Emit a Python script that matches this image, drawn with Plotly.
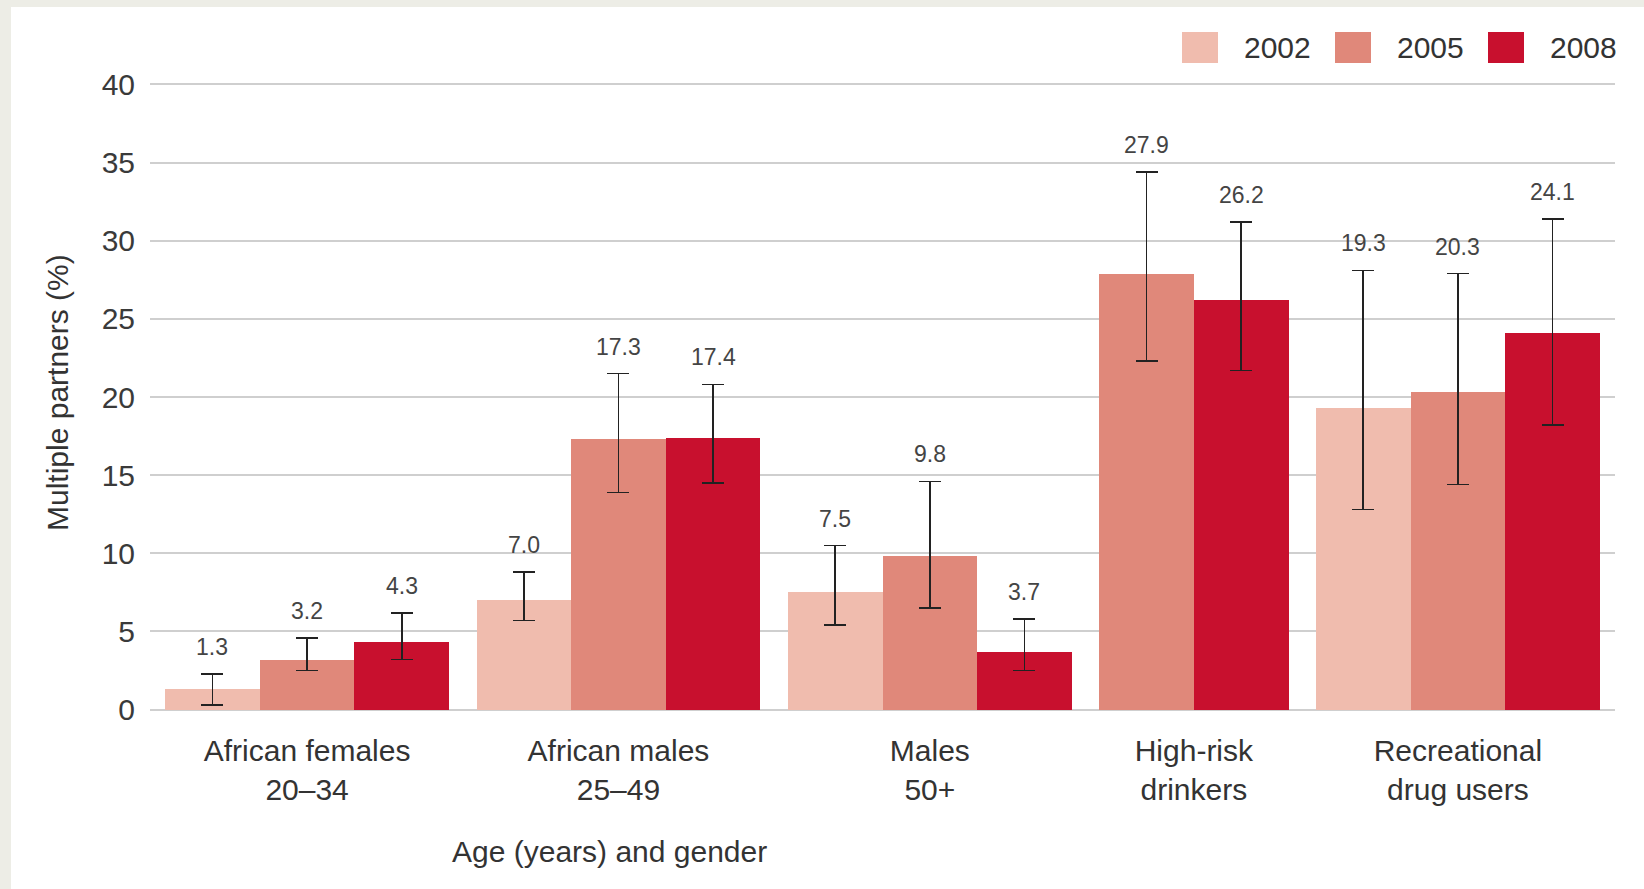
import plotly.graph_objects as go

# Share of respondents reporting multiple partners, by group and survey year
categories = [
    "African females<br>20–34",
    "African males<br>25–49",
    "Males<br>50+",
    "High-risk<br>drinkers",
    "Recreational<br>drug users",
]
years = ["2002", "2005", "2008"]

values_2002 = [1.3, 7.0, 7.5, None, 19.3]
values_2005 = [3.2, 17.3, 9.8, 27.9, 20.3]
values_2008 = [4.3, 17.4, 3.7, 26.2, 24.1]

# 95% confidence interval bounds
lower_2002 = [0.3, 5.7, 5.4, None, 12.8]
upper_2002 = [2.3, 8.8, 10.5, None, 28.1]
lower_2005 = [2.5, 13.9, 6.5, 22.3, 14.4]
upper_2005 = [4.6, 21.5, 14.6, 34.4, 27.9]
lower_2008 = [3.2, 14.5, 2.5, 21.7, 18.2]
upper_2008 = [6.2, 20.8, 5.8, 31.2, 31.4]

y_ticks = [0, 5, 10, 15, 20, 25, 30, 35, 40]

series = [
    ("2002", values_2002, lower_2002, upper_2002, "#F0BCAE"),
    ("2005", values_2005, lower_2005, upper_2005, "#E0887A"),
    ("2008", values_2008, lower_2008, upper_2008, "#C8102E"),
]

# ---- layout geometry (pixels) ----
W, H = 1644, 889
ML, MR, MT, MB = 150, 29, 82, 177
PW, PH = W - ML - MR, H - MT - MB

FONT = "Liberation Sans, Arial, sans-serif"

# Bars sit side by side inside a group; groups only reserve room for the
# years that have data, separated by a fixed gap (in bar-width units).
EDGE, GAP = 0.16, 0.29
bar_x = {name: [None] * len(categories) for name, *_ in series}
group_centers = []
cursor = EDGE
for ci in range(len(categories)):
    start = cursor
    for name, vals, *_ in series:
        if vals[ci] is not None:
            bar_x[name][ci] = cursor + 0.5
            cursor += 1.0
    group_centers.append((start + cursor) / 2)
    cursor += GAP
x_max = cursor - GAP + EDGE


def px_x(p):
    return (p - ML) / PW


def px_y(p):
    return (H - MB - p) / PH


fig = go.Figure()
annotations = []

for name, vals, lo, hi, color in series:
    xs, ys, plus, minus = [], [], [], []
    for ci, v in enumerate(vals):
        if v is None:
            continue
        xs.append(bar_x[name][ci])
        ys.append(v)
        plus.append(hi[ci] - v)
        minus.append(v - lo[ci])
        annotations.append(dict(
            x=bar_x[name][ci], y=hi[ci], xref="x", yref="y",
            text=f"{v:.1f}", showarrow=False, yanchor="middle", yshift=27,
            font=dict(family=FONT, size=23, color="#444444"),
        ))
    fig.add_trace(go.Bar(
        name=name, x=xs, y=ys, width=1.0,
        marker=dict(color=color, line=dict(width=0)),
        error_y=dict(type="data", symmetric=False, array=plus, arrayminus=minus,
                     color="#222222", thickness=1.7, width=11),
        showlegend=False, hoverinfo="x+y",
    ))

# Legend drawn as swatches with labels, top right
shapes = [
    # white panel over the tinted page
    dict(type="rect", xref="paper", yref="paper", layer="below",
         x0=px_x(11), x1=px_x(W + 10), y0=px_y(H + 10), y1=px_y(7),
         fillcolor="white", line=dict(width=0)),
]
for i, (name, _, _, _, color) in enumerate(series):
    x0 = 1182 + 153 * i
    shapes.append(dict(type="rect", xref="paper", yref="paper",
                       x0=px_x(x0), x1=px_x(x0 + 36), y0=px_y(63), y1=px_y(32),
                       fillcolor=color, line=dict(width=0)))
    annotations.append(dict(
        x=px_x(x0 + 60), y=px_y(48), xref="paper", yref="paper",
        text=name, showarrow=False, xanchor="left", yanchor="middle",
        font=dict(family=FONT, size=30, color="#333333"),
    ))

# Axis titles
annotations.append(dict(
    x=px_x(57), y=px_y(392), xref="paper", yref="paper",
    text="Multiple partners (%)", textangle=-90, showarrow=False,
    xanchor="center", yanchor="middle",
    font=dict(family=FONT, size=30, color="#333333"),
))
annotations.append(dict(
    x=px_x(609), y=px_y(851), xref="paper", yref="paper",
    text="Age (years) and gender", showarrow=False,
    xanchor="center", yanchor="middle",
    font=dict(family=FONT, size=30, color="#333333"),
))

fig.update_layout(
    width=W, height=H,
    margin=dict(l=ML, r=MR, t=MT, b=MB, pad=0),
    paper_bgcolor="#EDEDE6",
    plot_bgcolor="rgba(0,0,0,0)",
    barmode="overlay",
    bargap=0,
    shapes=shapes,
    annotations=annotations,
    showlegend=False,
    xaxis=dict(
        range=[0, x_max], tickmode="array", tickvals=group_centers,
        ticktext=categories, showgrid=False, zeroline=False, showline=False,
        ticks="outside", ticklen=12, tickcolor="rgba(0,0,0,0)",
        tickfont=dict(family=FONT, size=30, color="#333333"),
        fixedrange=True,
    ),
    yaxis=dict(
        # padding so the gridlines at 0 and 40 are drawn too
        range=[-0.15, 40.15], tickmode="array", tickvals=y_ticks,
        showgrid=True, gridcolor="#CFCFCF", gridwidth=2,
        zeroline=False, showline=False,
        ticks="outside", ticklen=8, tickcolor="rgba(0,0,0,0)",
        tickfont=dict(family=FONT, size=30, color="#3a3a3a"),
        fixedrange=True,
    ),
)

fig.write_html("out.html")
